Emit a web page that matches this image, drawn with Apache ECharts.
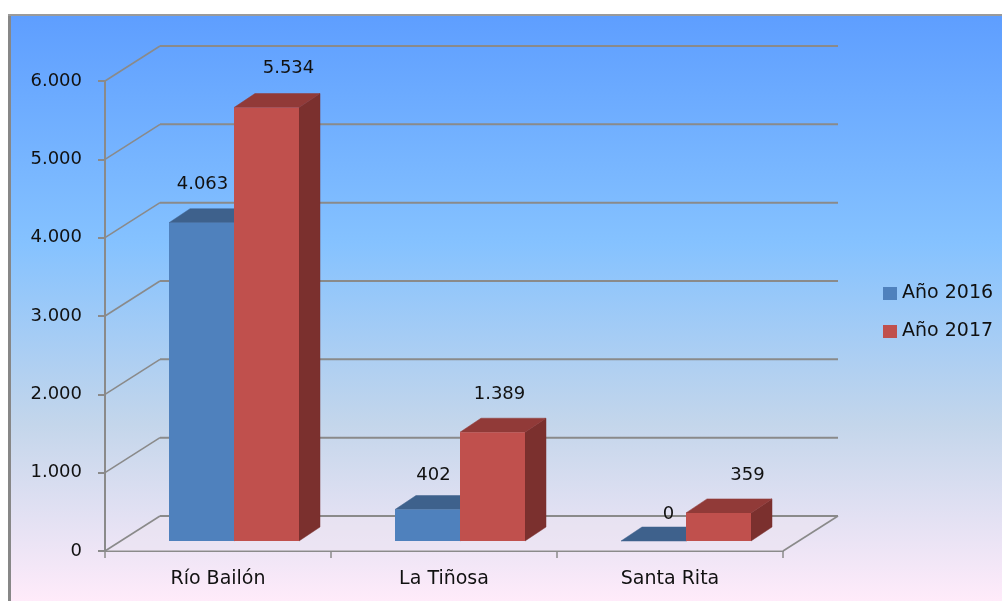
<!DOCTYPE html>
<html>
<head>
<meta charset="utf-8">
<style>html,body{margin:0;padding:0;background:#fff;overflow:hidden}#c{width:1002px;height:601px}</style>
<script src="https://cdn.jsdelivr.net/npm/echarts@6/dist/echarts.min.js"></script>
</head>
<body>
<div id="c"></div>
<script>
const categories = ['Río Bailón', 'La Tiñosa', 'Santa Rita'];
const year2016 = [4063, 402, 0];
const year2017 = [5534, 1389, 359];
const seriesNames = ['Año 2016', 'Año 2017'];
const valueTicks = [0, 1000, 2000, 3000, 4000, 5000, 6000];

const FONT = '"DejaVu Sans", sans-serif';
const TEXT = '#111111';
const GRID_C = '#8a8a8a';
const WALL = { dx: 55, dy: -35 };
const BAR = { dx: 21, dy: -14, liftY: -10, shiftX: 16, widthRatio: 0.2876 };
// label nudges, pixels from the front centre of each bar's top: [dx, dy]
const labelNudge2016 = [[1, -38], [6, -34], [15, -27]];
const labelNudge2017 = [[22, -39], [7, -38], [29, -38]];

const fmt = v => String(v).replace(/\B(?=(\d{3})+(?!\d))/g, '.');

function barRenderer(seriesIdx, front, top, side, nudges) {
  return function (params, api) {
    const i = api.value(0), v = api.value(1);
    const p = api.coord([i, v]);
    const base = api.coord([i, 0]);
    const w = api.size([1, 0])[0] * BAR.widthRatio;
    const xL = p[0] + BAR.shiftX + (seriesIdx === 0 ? -w : 0);
    const xR = xL + w;
    const yT = p[1] + BAR.liftY;
    const yB = base[1] + BAR.liftY;
    const d = [BAR.dx, BAR.dy];
    const poly = (pts, fill) => ({
      type: 'polygon',
      shape: { points: pts },
      style: { fill: fill, stroke: fill, lineWidth: 0.5 }
    });
    const n = nudges[i];
    return {
      type: 'group',
      children: [
        poly([[xR, yT], [xR + d[0], yT + d[1]], [xR + d[0], yB + d[1]], [xR, yB]], side),
        poly([[xL, yT], [xL + d[0], yT + d[1]], [xR + d[0], yT + d[1]], [xR, yT]], top),
        { type: 'rect', shape: { x: xL, y: yT, width: w, height: yB - yT }, style: { fill: front } },
        {
          type: 'text', z2: 50,
          style: {
            text: fmt(v), x: (xL + xR) / 2 + n[0], y: yT + n[1],
            align: 'center', verticalAlign: 'middle',
            font: '18px ' + FONT, fill: TEXT
          }
        }
      ]
    };
  };
}

function wallRenderer(params, api) {
  const cs = params.coordSys;
  const v = api.value(1);
  const y = api.coord([0, v])[1];
  const x0 = cs.x, x1 = cs.x + cs.width;
  const line = (a, b, c, d, lw) => ({
    type: 'line', shape: { x1: a, y1: b, x2: c, y2: d },
    style: { stroke: GRID_C, lineWidth: lw }
  });
  const children = [
    line(x0, y, x0 + WALL.dx, y + WALL.dy, 1.6),
    line(x0 + WALL.dx, y + WALL.dy, x1 + WALL.dx, y + WALL.dy, 2)
  ];
  if (v === 0) {
    children.unshift({
      type: 'polygon',
      shape: { points: [[x0, y], [x1, y], [x1 + WALL.dx, y + WALL.dy], [x0 + WALL.dx, y + WALL.dy]] },
      style: { fill: 'rgba(235,228,240,0.55)' }
    });
    children.push(line(x1, y, x1 + WALL.dx, y + WALL.dy, 1.6));
  }
  return { type: 'group', children };
}

const chart = echarts.init(document.getElementById('c'), null, { renderer: 'canvas' });
chart.setOption({
  animation: false,
  backgroundColor: '#ffffff',
  graphic: [
    {
      type: 'rect', z: -10, silent: true,
      shape: { x: 10, y: 15, width: 992, height: 586 },
      style: {
        fill: new echarts.graphic.LinearGradient(0, 0, 0, 1, [
          { offset: 0, color: '#5E9EFF' },
          { offset: 0.39, color: '#85C2FF' },
          { offset: 0.70, color: '#C4D6EB' },
          { offset: 1, color: '#FFEBFA' }
        ])
      }
    },
    { type: 'rect', z: -9, silent: true, shape: { x: 8, y: 14, width: 3, height: 587 }, style: { fill: '#878787' } },
    { type: 'rect', z: -9, silent: true, shape: { x: 8, y: 14, width: 994, height: 2 }, style: { fill: '#9a9a9a' } }
  ],
  grid: { left: 105, right: 219, top: 81, bottom: 50 },
  legend: {
    data: seriesNames,
    orient: 'vertical',
    left: 878, top: 279,
    icon: 'rect',
    itemWidth: 14, itemHeight: 13,
    itemGap: 19,
    selectedMode: false,
    textStyle: { fontFamily: FONT, fontSize: 19, color: TEXT, padding: [0, 0, 0, 0] }
  },
  xAxis: {
    type: 'category',
    data: categories,
    axisLine: { lineStyle: { color: GRID_C, width: 2 } },
    axisTick: { show: true, length: 7, alignWithLabel: false, lineStyle: { color: GRID_C, width: 1.5 } },
    axisLabel: { fontFamily: FONT, fontSize: 19, color: TEXT, margin: 19 }
  },
  yAxis: {
    type: 'value', min: 0, max: 6000, interval: 1000,
    axisLine: { show: true, lineStyle: { color: GRID_C, width: 2 } },
    axisTick: { show: true, length: 7, lineStyle: { color: GRID_C, width: 2 } },
    splitLine: { show: false },
    axisLabel: { fontFamily: FONT, fontSize: 18, color: TEXT, margin: 23, padding: [5, 0, 0, 0], formatter: fmt }
  },
  series: [
    {
      type: 'custom', name: 'walls', silent: true, clip: false, z: 1,
      renderItem: wallRenderer,
      data: valueTicks.map(v => [0, v])
    },
    {
      type: 'custom', name: seriesNames[0], clip: false, z: 3, silent: true,
      itemStyle: { color: '#4F81BD' },
      renderItem: barRenderer(0, '#4F81BD', '#3E618C', '#3A5F8B', labelNudge2016),
      data: year2016.map((v, i) => [i, v])
    },
    {
      type: 'custom', name: seriesNames[1], clip: false, z: 4, silent: true,
      itemStyle: { color: '#C0504D' },
      renderItem: barRenderer(1, '#C0504D', '#913A38', '#7B302E', labelNudge2017),
      data: year2017.map((v, i) => [i, v])
    }
  ]
});
</script>
</body>
</html>
